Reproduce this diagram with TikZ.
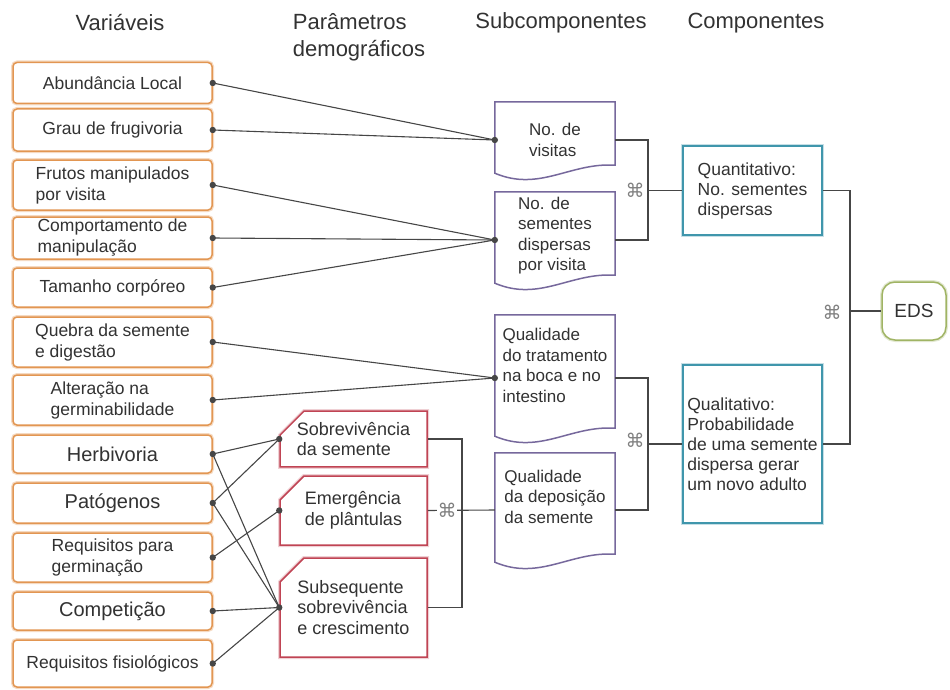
\documentclass[tikz,border=0pt]{standalone}
\usepackage{fontspec}
\setmainfont{Liberation Sans}
\newfontfamily\symbolfont{DejaVu Sans}
\usetikzlibrary{shapes.misc, backgrounds}

\definecolor{txtgray}{RGB}{50,50,50}
\definecolor{linegray}{RGB}{70,70,70}
\definecolor{vorange}{RGB}{226,150,82}
\definecolor{vpurple}{RGB}{118,104,156}
\definecolor{vred}{RGB}{192,68,84}
\definecolor{vteal}{RGB}{64,150,172}
\definecolor{vgreen}{RGB}{160,180,100}

\begin{document}
\begin{tikzpicture}[x=1pt, y=-1pt,
    every node/.style={text=txtgray},
    header/.style={font=\fontsize{22}{27}\selectfont, align=left},
    varbox/.style={draw=vorange, line width=1.5pt, rounded corners=4pt, fill=white,
        preaction={draw=vorange!35, line width=4pt},
        minimum width=199pt, inner sep=1pt, align=left, font=\fontsize{17.5}{21}\selectfont},
    bigvar/.style={font=\fontsize{20}{24}\selectfont},
    parbox/.style={chamfered rectangle, chamfered rectangle corners=north west,
        chamfered rectangle xsep=14pt, chamfered rectangle ysep=10pt,
        draw=vred, line width=1.5pt, fill=white, preaction={draw=vred!25, line width=4pt},
        minimum width=147pt, inner sep=1pt, align=left, font=\fontsize{18}{20.5}\selectfont},
    subbox/.style={minimum width=120pt, inner sep=1pt, align=left, font=\fontsize{17}{20.5}\selectfont},
    subline/.style={draw=vpurple, line width=1.5pt, fill=white},
    compbox/.style={draw=vteal, line width=1.5pt, fill=white, preaction={draw=vteal!30, line width=4pt},
        minimum width=139pt, inner sep=1pt, align=left, font=\fontsize{17.5}{20}\selectfont},
    edsbox/.style={draw=vgreen, line width=1.5pt, fill=white, rounded corners=13pt,
        preaction={draw=vgreen!30, line width=4pt},
        minimum width=64pt, minimum height=58pt, font=\fontsize{19}{22}\selectfont},
    prodsym/.style={font=\symbolfont\fontsize{19}{19}\selectfont, text=gray, inner sep=0.5pt},
    conn/.style={draw=linegray, line width=1.1pt},
    dotc/.style={fill=linegray}
]
    \useasboundingbox (0,0) rectangle (950,690);

    % column titles
    \node[header] (hvar) at (120,23) {Variáveis};
    \node[header] (hpar) at (359,37) {Parâmetros\\demográficos};
    \node[header] (hsub) at (561,23) {Subcomponentes};
    \node[header] (hcomp) at (756,23) {Componentes};

    % variables
    \begin{scope}[every node/.append style={varbox}]
        \node[minimum height=41pt] (abund) at (112.5,83) {Abundância Local};
        \node[minimum height=42pt] (grau) at (112.5,130) {Grau de frugivoria};
        \node[minimum height=50pt] (frutos) at (112.5,185) {Frutos manipulados\\por visita};
        \node[minimum height=42pt] (comport) at (112.5,238) {Comportamento de\\manipulação};
        \node[minimum height=39pt] (tamanho) at (112.5,287.5) {Tamanho corpóreo};
        \node[minimum height=50pt] (quebra) at (112.5,342) {Quebra da semente\\e digestão};
        \node[minimum height=50pt] (alter) at (112.5,400) {Alteração na\\germinabilidade};
        \node[minimum height=38pt, bigvar] (herb) at (112.5,454) {Herbivoria};
        \node[minimum height=40pt, bigvar] (patog) at (112.5,503) {Patógenos};
        \node[minimum height=49pt] (reqgerm) at (112.5,557.5) {Requisitos para\\germinação};
        \node[minimum height=38pt, bigvar] (compet) at (112.5,611) {Competição};
        \node[minimum height=47pt] (reqfis) at (112.5,663.5) {Requisitos fisiológicos};
    \end{scope}

    % demographic parameters
    \node[parbox, minimum height=48pt] (sobrev) at (353.5,439) {Sobrevivência\\da semente};
    \node[parbox, minimum height=69pt] (emerg) at (353.5,510.5) {Emergência\\de plântulas};
    \node[parbox, minimum height=99pt] (subseq) at (353.5,607.5) {Subsequente\\sobrevivência\\e crescimento};

    % subcomponents (document shape)
    \node[subbox, minimum height=76pt] (visitas) at (555,140) {No. de\\visitas};
    \node[subbox, minimum height=96pt, text depth=12pt] (sement) at (555,240) {No. de\\sementes\\dispersas\\por visita};
    \node[subbox, minimum height=126pt, text depth=25pt] (trat) at (555,378) {Qualidade\\do tratamento\\na boca e no\\intestino};
    \node[subbox, minimum height=114pt, text depth=27pt] (depos) at (555,510) {Qualidade\\da deposição\\da semente};
    \begin{scope}[on background layer]
        \foreach \n in {visitas,sement,trat,depos}
            \draw[subline] (\n.north west) -- (\n.north east) -- ([yshift=13pt]\n.south east)
                .. controls ([xshift=-45pt,yshift=16pt]\n.south east) and ([xshift=45pt,yshift=-14pt]\n.south west)
                .. ([yshift=5pt]\n.south west) -- cycle;
    \end{scope}

    % components
    \node[compbox, minimum height=89pt] (quant) at (752.5,190.5) {Quantitativo:\\No. sementes\\dispersas};
    \node[compbox, minimum height=158pt] (qualit) at (752.5,444) {Qualitativo:\\Probabilidade\\de uma semente\\dispersa gerar\\um novo adulto};
    \node[edsbox] (eds) at (914,311) {EDS};

    % junctions
    \coordinate (bA) at (462,510.5);
    \coordinate (bB) at (648,190.5);
    \coordinate (bC) at (648,444);
    \coordinate (bD) at (850,311);

    % connectors
    \begin{scope}[every path/.style={conn}]
        \draw (abund.east) -- (visitas.west);
        \draw (grau.east) -- (visitas.west);
        \draw (frutos.east) -- (sement.west);
        \draw (comport.east) -- (sement.west);
        \draw (tamanho.east) -- (sement.west);
        \draw (quebra.east) -- (trat.west);
        \draw (alter.east) -- (trat.west);
        \draw (herb.east) -- (sobrev.west);
        \draw (herb.east) -- (subseq.west);
        \draw (patog.east) -- (sobrev.west);
        \draw (patog.east) -- (subseq.west);
        \draw (reqgerm.east) -- (emerg.west);
        \draw (compet.east) -- (subseq.west);
        \draw (reqfis.east) -- (subseq.west);
        \draw (sobrev.east) -| (bA) |- (subseq.east);
        \draw (emerg.east) -- (depos.west);
        \draw (visitas.east) -| (bB) |- (sement.east);
        \draw (bB) -- (quant.west);
        \draw (trat.east) -| (bC) |- (depos.east);
        \draw (bC) -- (qualit.west);
        \draw (quant.east) -| (bD) |- (qualit.east);
        \draw (bD) -- (eds.west);
    \end{scope}

    % dots
    \foreach \n in {abund,grau,frutos,comport,tamanho,quebra,alter,herb,patog,reqgerm,compet,reqfis}
        \fill[dotc] (\n.east) circle (3.2pt);
    \foreach \n in {visitas,sement,trat,sobrev,emerg,subseq}
        \fill[dotc] (\n.west) circle (3.2pt);

    % product symbols
    \node[prodsym, fill=white] (xA) at (447,510.5) {⌘};
    \node[prodsym] (xB) at (635,190.5) {⌘};
    \node[prodsym] (xC) at (635,440) {⌘};
    \node[prodsym] (xD) at (832,312) {⌘};
\end{tikzpicture}
\end{document}
